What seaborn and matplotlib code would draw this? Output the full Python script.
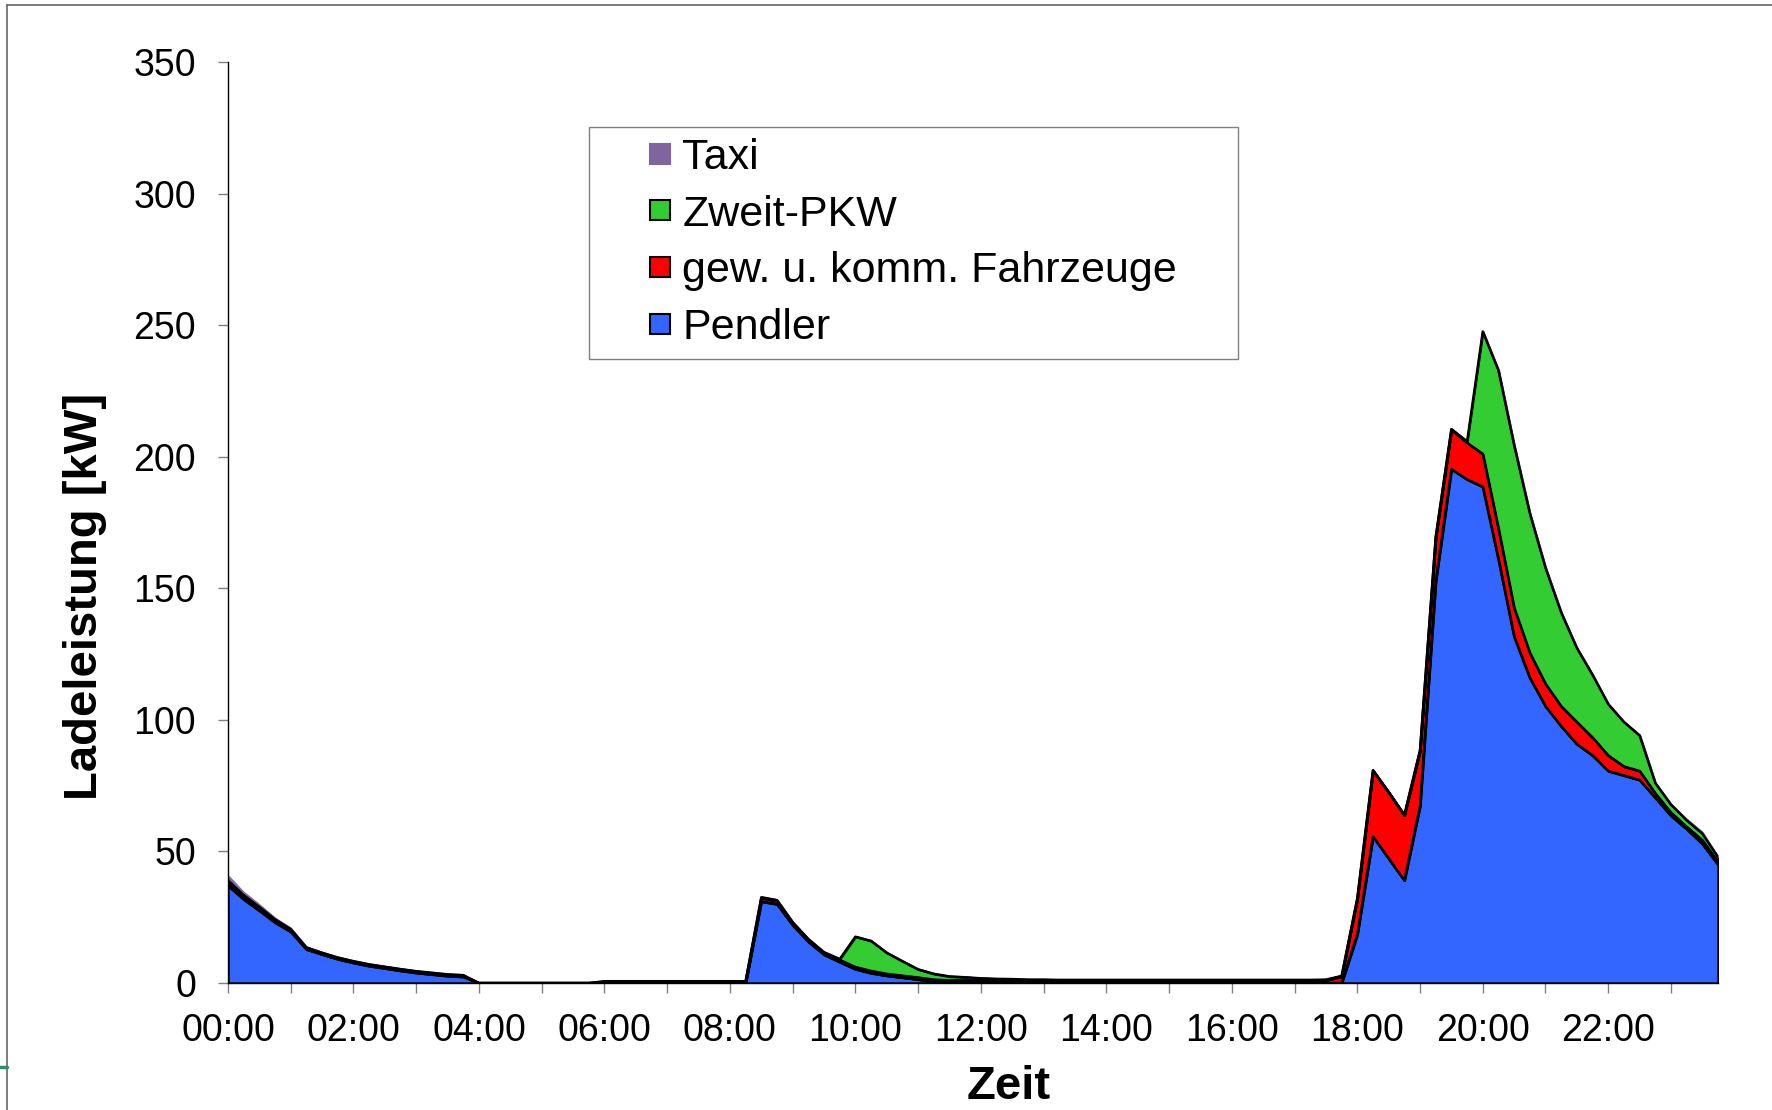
import numpy as np
import pandas as pd
import matplotlib
matplotlib.use("Agg")
import matplotlib.pyplot as plt
from matplotlib.lines import Line2D
import seaborn as sns

# ---------------- data (kW, 15-minute steps from 00:00 to 23:45) ----------------
pendler = [
    37.0, 31.8, 27.5, 23.0, 19.5, 12.8, 10.9, 9.1,
    7.7, 6.5, 5.6, 4.7, 3.9, 3.3, 2.7, 2.4,
    0, 0, 0, 0, 0, 0, 0, 0,
    0, 0, 0, 0, 0, 0, 0, 0,
    0, 0, 31.0, 30.0, 22.0, 15.7, 10.8, 8.0,
    5.3, 3.8, 2.8, 2.1, 1.4, 0.3, 0, 0,
    0, 0, 0, 0, 0, 0, 0, 0,
    0, 0, 0, 0, 0, 0, 0, 0,
    0, 0, 0, 0, 0, 0, 0, 0,
    18.5, 55.7, 47.3, 39.0, 67.4, 152.6, 195.3, 191.4,
    188.6, 161.0, 131.7, 116.0, 105.2, 97.6, 90.8, 86.5,
    80.6, 78.9, 77.2, 70.4, 63.6, 58.5, 52.9, 45.0,
]
gewerblich = [
    1.0, 0.8, 0.7, 0.6, 0.5, 0.4, 0.3, 0.3,
    0.3, 0.3, 0.3, 0.3, 0.3, 0.3, 0.3, 0.3,
    0, 0, 0, 0, 0, 0, 0, 0,
    0.5, 0.5, 0.5, 0.5, 0.5, 0.5, 0.5, 0.5,
    0.5, 0.5, 1.3, 1.2, 0.8, 0.7, 0.6, 0.8,
    0.8, 0.8, 0.7, 0.7, 0.7, 1.0, 1.0, 1.0,
    1.0, 1.0, 1.0, 0.9, 0.9, 0.9, 0.9, 0.9,
    0.9, 0.9, 0.9, 0.9, 0.9, 0.9, 0.9, 0.9,
    0.9, 0.9, 0.9, 0.9, 0.9, 0.9, 1.0, 2.5,
    13.5, 25.0, 25.1, 24.7, 20.9, 16.7, 15.0, 13.9,
    12.5, 11.7, 10.9, 9.5, 8.5, 7.6, 8.4, 6.8,
    5.9, 3.4, 3.4, 1.7, 1.2, 0.9, 1.4, 1.0,
]
zweit_pkw = [
    1.0, 0.8, 0.7, 0.6, 0.5, 0.3, 0.3, 0.3,
    0.3, 0.3, 0.3, 0.3, 0.3, 0.3, 0.3, 0.3,
    0, 0, 0, 0, 0, 0, 0, 0,
    0.2, 0.2, 0.2, 0.2, 0.2, 0.2, 0.2, 0.2,
    0.2, 0.2, 0.3, 0.3, 0.3, 0.3, 0.3, 0.3,
    11.5, 11.4, 8.0, 5.5, 3.1, 2.2, 1.5, 1.2,
    0.8, 0.6, 0.5, 0.4, 0.4, 0.3, 0.3, 0.3,
    0.3, 0.3, 0.3, 0.3, 0.3, 0.3, 0.3, 0.3,
    0.3, 0.3, 0.3, 0.3, 0.3, 0.3, 0.3, 0.2,
    0.2, 0.2, 0.2, 0.2, 0.2, 0.2, 0.2, 0.5,
    46.5, 60.1, 61.8, 53.0, 44.1, 35.6, 28.1, 23.8,
    19.5, 16.9, 13.5, 3.9, 3.0, 2.5, 2.5, 1.8,
]
taxi = [
    2.0, 1.3, 1.1, 0.7, 0.6, 0.5, 0.4, 0.4,
    0.4, 0.4, 0.4, 0.4, 0.4, 0.4, 0.4, 0.4,
    0, 0, 0, 0, 0, 0, 0, 0,
    0.3, 0.3, 0.3, 0.3, 0.3, 0.4, 0.4, 0.4,
    0.4, 0.4, 0.4, 0.4, 0.4, 0.4, 0.4, 0.4,
    0.4, 0.4, 0.4, 0.4, 0.4, 0.4, 0.4, 0.4,
    0.3, 0.3, 0.3, 0.3, 0.3, 0.3, 0.3, 0.3,
    0.3, 0.3, 0.3, 0.3, 0.3, 0.3, 0.3, 0.3,
    0.3, 0.3, 0.3, 0.3, 0.3, 0.3, 0.3, 0.3,
    0.3, 0.3, 0.3, 0.3, 0.3, 0.3, 0.3, 0.3,
    0.3, 0.3, 0.3, 0.3, 0.3, 0.3, 0.3, 0.3,
    0.3, 0.3, 0.3, 0.4, 0.5, 0.6, 0.8, 0.6,
]
series_names = ["Pendler", "gew. u. komm. Fahrzeuge", "Zweit-PKW", "Taxi"]
series_colors = ["#3366FF", "#FF0000", "#33CC33", "#8064A2"]
tick_hours = [0, 2, 4, 6, 8, 10, 12, 14, 16, 18, 20, 22]
tick_labels = ["00:00", "02:00", "04:00", "06:00", "08:00", "10:00",
               "12:00", "14:00", "16:00", "18:00", "20:00", "22:00"]
y_ticks = [0, 50, 100, 150, 200, 250, 300, 350]

# ---------------- build frame ----------------
hours = np.arange(len(pendler)) / 4.0
df = pd.DataFrame({"Stunde": hours,
                   series_names[0]: pendler,
                   series_names[1]: gewerblich,
                   series_names[2]: zweit_pkw,
                   series_names[3]: taxi})

sns.set_theme(style="ticks")
plt.rcParams["font.family"] = ["Liberation Sans", "DejaVu Sans"]
plt.rcParams["text.color"] = "black"
plt.rcParams["axes.labelcolor"] = "black"

fig = plt.figure(figsize=(17.72, 11.10), dpi=100)
ax = fig.add_axes([228 / 1772, 1 - 983 / 1110, (1718 - 228) / 1772, (983 - 62) / 1110])

bottom = np.zeros(len(df))
for name, col in zip(series_names, series_colors):
    top = bottom + df[name].to_numpy()
    if name == "Taxi":
        ax.fill_between(df["Stunde"], bottom, top, facecolor=col,
                        edgecolor=col, linewidth=0.6, zorder=2)
    else:
        ax.fill_between(df["Stunde"], bottom, top, facecolor=col,
                        edgecolor="black", linewidth=1.7, zorder=2)
        sns.lineplot(x=df["Stunde"], y=top, ax=ax, color="black", linewidth=1.7,
                     zorder=3, legend=False)
    bottom = top

ax.set_xlim(0, hours[-1])
ax.set_ylim(0, 350)
ax.set_yticks(y_ticks)
ax.set_yticklabels([str(v) for v in y_ticks])
ax.set_xticks(tick_hours)
ax.set_xticklabels(tick_labels)
ax.set_xticks([h + 1 for h in tick_hours], minor=True)

ax.tick_params(axis="y", which="major", direction="out", length=7, width=1,
               color="#808080", pad=16, labelsize=27, labelcolor="black")
ax.tick_params(axis="x", which="both", direction="out", length=7.5, width=1,
               color="#808080", pad=14, labelsize=27, labelcolor="black")

for s in ["top", "right"]:
    ax.spines[s].set_visible(False)
for s in ["left", "bottom"]:
    ax.spines[s].set_color("black")
    ax.spines[s].set_linewidth(1.0)

ax.set_xlabel("Zeit", fontsize=34, fontweight="bold", va="center", color="black")
ax.set_ylabel("Ladeleistung [kW]", fontsize=34, fontweight="bold", va="center",
              color="black")
ax.xaxis.set_label_coords((1009 - 228) / 1490, (983 - 1087) / 921)
ax.yaxis.set_label_coords((85 - 228) / 1490, (983 - 596) / 921)

# legend (reversed order, as in the original)
handles = []
for name, col in zip(series_names[::-1], series_colors[::-1]):
    mec = col if name == "Taxi" else "black"
    handles.append(Line2D([], [], linestyle="none", marker="s", markersize=14,
                          markerfacecolor=col, markeredgecolor=mec,
                          markeredgewidth=1.5, label=name))
lx0 = (589 - 228) / 1490
lx1 = (1238 - 228) / 1490
ly1 = (983 - 127) / 921
ly0 = (983 - 354) / 921
leg = ax.legend(handles=handles, loc="upper left", mode="expand",
                bbox_to_anchor=(lx0, ly0, lx1 - lx0, ly1 - ly0),
                borderaxespad=0, fontsize=31, frameon=True, fancybox=False,
                edgecolor="#808080", borderpad=0.25, labelspacing=0.39,
                handlelength=2.8, handletextpad=-0.88, labelcolor="black")
leg.get_frame().set_linewidth(1.0)
leg.get_frame().set_alpha(1)

# outer frame of the original slide
fig.add_artist(Line2D([7 / 1772, 1.0], [1 - 5 / 1110, 1 - 5 / 1110],
                      transform=fig.transFigure, color="#666666", linewidth=1.2))
fig.add_artist(Line2D([7 / 1772, 7 / 1772], [1 - 5 / 1110, 0.0],
                      transform=fig.transFigure, color="#666666", linewidth=1.2))
fig.add_artist(Line2D([0, 7 / 1772], [1 - 1067 / 1110, 1 - 1067 / 1110],
                      transform=fig.transFigure, color="#2E8B6E", linewidth=2.5))

fig.savefig("out.png", dpi=100, facecolor="white")
